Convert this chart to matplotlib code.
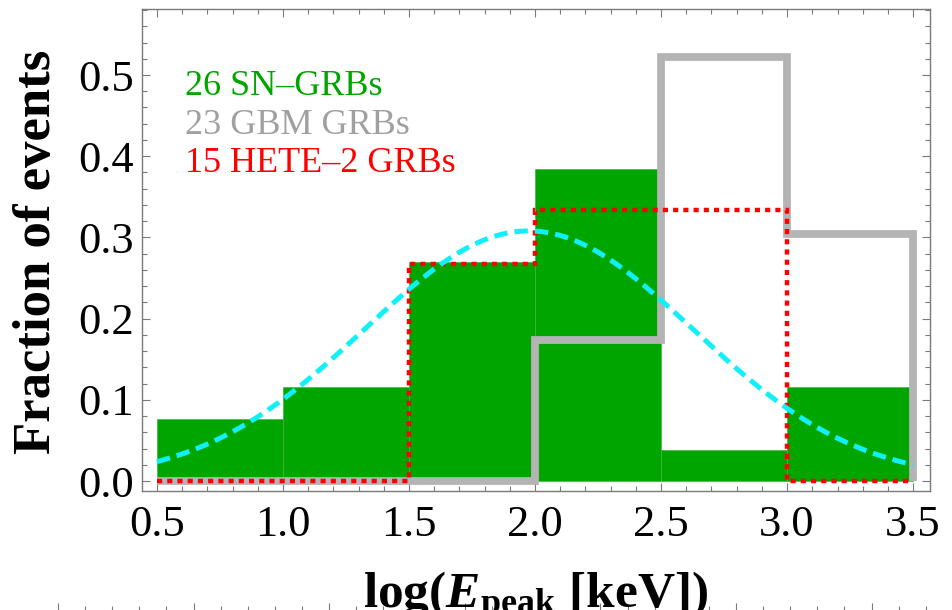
import numpy as np
import matplotlib
matplotlib.use("Agg")
import matplotlib.pyplot as plt
from matplotlib.ticker import MultipleLocator, FixedLocator, FormatStrFormatter

plt.rcParams['font.family'] = ['Liberation Serif', 'DejaVu Serif']
plt.rcParams['mathtext.fontset'] = 'custom'
plt.rcParams['mathtext.rm'] = 'Liberation Serif:bold'
plt.rcParams['mathtext.bf'] = 'Liberation Serif:bold'
plt.rcParams['mathtext.it'] = 'Liberation Serif:italic:bold'
plt.rcParams['mathtext.bfit'] = 'Liberation Serif:italic:bold'

# log(Epeak) bins and per-bin fractions for the three samples
bin_edges = [0.5, 1.0, 1.5, 2.0, 2.5, 3.0, 3.5]
sn_counts = [2, 3, 7, 10, 1, 3]        # 26 SN-GRBs
gbm_counts = [0, 0, 0, 4, 12, 7]       # 23 GBM GRBs
hete_counts = [0, 0, 4, 5, 5, 0]       # 15 HETE-2 GRBs
n_sn, n_gbm, n_hete = 26, 23, 15

# gaussian fit to the SN-GRB distribution
fit_amp, fit_mu, fit_sigma = 0.308, 1.975, 0.652

labels = ['26 SN\u2013GRBs', '23 GBM GRBs', '15 HETE\u20132 GRBs']
label_colors = ['#00a500', '#a0a0a0', '#ff0000']

green = '#00a500'
grey = '#b4b4b4'
frame = '#7a7a7a'

sn_frac = np.array(sn_counts) / n_sn
gbm_frac = np.array(gbm_counts) / n_gbm
hete_frac = np.array(hete_counts) / n_hete

W, H = 953, 610
fig = plt.figure(figsize=(W / 100, H / 100), dpi=100)
ax = fig.add_axes([142 / W, 1 - 491 / H, (930 - 142) / W, (491 - 9) / H])

edges = np.array(bin_edges)
ax.bar(edges[:-1], sn_frac, width=np.diff(edges), align='edge',
       color=green, edgecolor='#3fb83f', linewidth=0.5, zorder=1)
ax.stairs(gbm_frac, edges, baseline=0, fill=False, color=grey,
          linewidth=5.6, joinstyle='miter', zorder=2)
ax.stairs(hete_frac, edges, baseline=0, fill=False, color='#ff0000',
          linewidth=3.2, linestyle=(0, (1.15, 1.15)), zorder=3)

xs = np.linspace(edges[0], edges[-1], 300)
ax.plot(xs, fit_amp * np.exp(-(xs - fit_mu) ** 2 / (2 * fit_sigma ** 2)),
        color='#11f0f8', linewidth=3.6, linestyle=(0, (2.7, 1.4)), zorder=4)

for i, (txt, col) in enumerate(zip(labels, label_colors)):
    ax.text(0.613, 0.475 - i * 0.0475, txt, color=col, fontsize=26,
            va='baseline', ha='left')

ax.set_xlim(0.4405, 3.567)
ax.set_ylim(-0.0123, 0.5813)

ax.xaxis.set_major_locator(MultipleLocator(0.5))
ax.xaxis.set_minor_locator(MultipleLocator(0.1))
ax.yaxis.set_major_locator(MultipleLocator(0.1))
ax.yaxis.set_minor_locator(MultipleLocator(0.02))
ax.xaxis.set_major_formatter(FormatStrFormatter('%.1f'))
ax.yaxis.set_major_formatter(FormatStrFormatter('%.1f'))
ax.tick_params(which='both', direction='in', top=True, right=True,
               color=frame, width=0.8, labelsize=32)
ax.tick_params(which='major', length=6)
ax.tick_params(which='minor', length=3.5)
ax.tick_params(axis='x', which='major', pad=10)
ax.tick_params(axis='y', which='major', pad=6)
for s in ax.spines.values():
    s.set_color(frame)
    s.set_linewidth(1.0)

fig.text(37 / W, 1 - 252 / H, 'Fraction of events', rotation=90,
         fontsize=38, fontweight='bold', ha='center', va='center')
fig.text(536 / W, 1 - 608 / H,
         r'$\mathrm{log(}\mathbfit{E}_{\mathrm{peak}}\ \mathrm{[keV])}$',
         fontsize=37, ha='center', va='baseline')

# top edge of the panel underneath
ax2 = fig.add_axes([40 / W, -0.6, (W - 40) / W, 0.6 - 1 / H])
ax2.set_xlim(0, W - 40)
ax2.set_ylim(0, 1)
ax2.xaxis.set_major_locator(FixedLocator(18 + 135.6 * np.arange(7)))
ax2.xaxis.set_minor_locator(FixedLocator(18 + 27.12 * np.arange(-1, 34)))
ax2.tick_params(which='both', top=True, bottom=False, left=False,
                labeltop=False, labelbottom=False, labelleft=False,
                direction='out', color=frame, width=0.8)
ax2.tick_params(which='major', length=6)
ax2.tick_params(which='minor', length=3.5)
for s in ax2.spines.values():
    s.set_visible(False)

fig.savefig('out.png', dpi=100)
